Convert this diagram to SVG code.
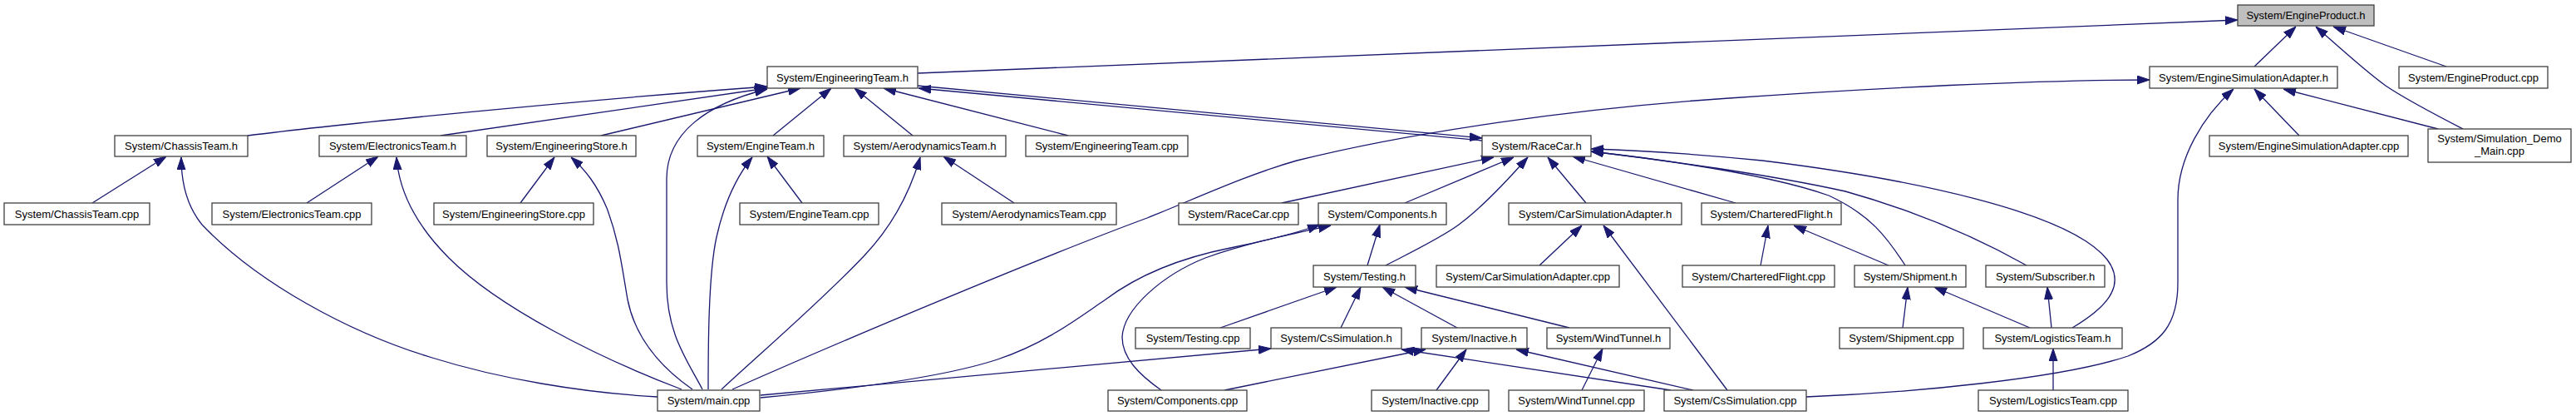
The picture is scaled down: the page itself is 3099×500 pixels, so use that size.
<svg xmlns="http://www.w3.org/2000/svg" width="3099" height="500" viewBox="0 0 3099 500">
<style>
.node rect{fill:#ffffff;stroke:#404040;stroke-width:1.3}
.node.root rect{fill:#bfbfbf}
.node text{font-family:"Liberation Sans",Arial,sans-serif;font-size:13px;fill:#000000;text-anchor:middle}
.edges path{fill:none;stroke:#191970;stroke-width:1.3;marker-end:url(#arr)}
</style>
<defs>
<marker id="arr" markerUnits="userSpaceOnUse" viewBox="0 0 15 11" markerWidth="15" markerHeight="11" refX="15" refY="5.5" orient="auto">
<path d="M0,0.5 L15,5.5 L0,10.5 z" fill="#191970" stroke="#191970" stroke-width="1"/>
</marker>
</defs>
<rect width="3099" height="500" fill="#ffffff"/>
<g class="edges" id="connectors">
<path d="M1104,88 L2692,24"/>
<path d="M2712,80 L2762,32"/>
<path d="M2963,155 C2930,138 2895,120 2870,103 C2845,85 2810,53 2786,32"/>
<path d="M2943,80 L2807,32"/>
<path d="M881,468 C1000,415 1250,310 1380,262 C1440,238 1500,210 1560,193 C1700,158 1900,130 2080,118 C2250,106 2450,96 2586,96"/>
<path d="M2766,163 L2712,107"/>
<path d="M2933,155 L2747,107"/>
<path d="M2173,477 C2300,472 2480,455 2560,428 C2600,412 2620,390 2620,340 L2620,240 C2620,190 2650,140 2687,107"/>
<path d="M298,163 C400,150 700,120 923,104"/>
<path d="M530,163 L923,106"/>
<path d="M845,468 C825,430 802,400 802,340 L802,215 C802,160 850,125 923,107"/>
<path d="M723,163 L963,106"/>
<path d="M930,163 L1000,106"/>
<path d="M1098,163 L1028,106"/>
<path d="M1285,163 L1063,106"/>
<path d="M1104,103 L1783,166"/>
<path d="M1783,169 L1105,106"/>
<path d="M111,244 L200,188"/>
<path d="M791,477 C700,472 600,455 520,430 C420,400 310,340 243,270 C225,248 218,220 218,189"/>
<path d="M369,244 L455,188"/>
<path d="M820,468 C720,430 600,370 540,310 C500,270 480,230 477,189"/>
<path d="M626,244 L667,189"/>
<path d="M833,468 C800,445 765,410 755,360 C748,320 745,290 730,250 C718,222 705,205 687,189"/>
<path d="M965,244 L923,188"/>
<path d="M852,468 C852,420 852,330 862,285 C872,240 888,210 905,189"/>
<path d="M1220,244 L1135,188"/>
<path d="M868,468 C920,420 990,360 1040,307 C1075,270 1095,230 1107,189"/>
<path d="M1542,244 L1797,189"/>
<path d="M1690,244 L1821,189"/>
<path d="M1667,319 C1700,302 1735,285 1755,270 C1785,248 1815,215 1838,189"/>
<path d="M1908,244 L1862,189"/>
<path d="M2088,244 L1892,188"/>
<path d="M2493,394 C2530,372 2560,345 2535,312 C2490,255 2300,215 2120,193 C2050,186 1980,181 1914,179"/>
<path d="M2292,319 C2270,285 2250,258 2200,235 C2130,210 2000,192 1914,182"/>
<path d="M2438,319 C2390,292 2320,258 2220,230 C2130,210 2000,192 1914,182"/>
<path d="M1852,319 L1903,271"/>
<path d="M2078,469 L1929,271"/>
<path d="M2118,319 L2127,271"/>
<path d="M2272,319 L2158,271"/>
<path d="M2289,394 L2295,345"/>
<path d="M2442,394 L2327,345"/>
<path d="M2468,394 L2463,345"/>
<path d="M2470,469 L2470,419"/>
<path d="M1468,394 L1608,345"/>
<path d="M1613,394 L1637,345"/>
<path d="M1753,394 L1663,345"/>
<path d="M1888,394 L1690,345"/>
<path d="M1645,319 L1660,270"/>
<path d="M915,478 C1000,470 1130,455 1200,432 C1260,412 1300,380 1330,360 C1370,330 1420,310 1480,298 C1520,290 1560,280 1588,270"/>
<path d="M1397,469 C1370,450 1350,430 1350,405 C1352,370 1400,330 1450,310 C1500,292 1560,280 1601,271"/>
<path d="M915,475 L1529,419"/>
<path d="M2010,469 L1686,420"/>
<path d="M1728,469 L1764,420"/>
<path d="M1473,469 L1715,420"/>
<path d="M2037,469 L1824,420"/>
<path d="M1903,469 L1928,419"/>
</g>
<g class="node root" id="EngineProduct_h"><rect x="2692" y="6" width="164" height="25"/><text x="2774" y="23">System/EngineProduct.h</text></g>
<g class="node" id="EngineeringTeam_h"><rect x="923" y="80" width="181" height="26"/><text x="1013.5" y="97.5">System/EngineeringTeam.h</text></g>
<g class="node" id="EngineSimulationAdapter_h"><rect x="2586" y="80" width="226" height="26"/><text x="2699" y="97.5">System/EngineSimulationAdapter.h</text></g>
<g class="node" id="EngineProduct_cpp"><rect x="2886" y="80" width="179" height="26"/><text x="2975.5" y="97.5">System/EngineProduct.cpp</text></g>
<g class="node" id="ChassisTeam_h"><rect x="138" y="163" width="160" height="25"/><text x="218" y="180">System/ChassisTeam.h</text></g>
<g class="node" id="ElectronicsTeam_h"><rect x="384" y="163" width="177" height="25"/><text x="472.5" y="180">System/ElectronicsTeam.h</text></g>
<g class="node" id="EngineeringStore_h"><rect x="586" y="163" width="179" height="25"/><text x="675.5" y="180">System/EngineeringStore.h</text></g>
<g class="node" id="EngineTeam_h"><rect x="839" y="163" width="152" height="25"/><text x="915" y="180">System/EngineTeam.h</text></g>
<g class="node" id="AerodynamicsTeam_h"><rect x="1015" y="163" width="195" height="25"/><text x="1112.5" y="180">System/AerodynamicsTeam.h</text></g>
<g class="node" id="EngineeringTeam_cpp"><rect x="1234" y="163" width="195" height="25"/><text x="1331.5" y="180">System/EngineeringTeam.cpp</text></g>
<g class="node" id="RaceCar_h"><rect x="1783" y="163" width="131" height="25"/><text x="1848.5" y="180">System/RaceCar.h</text></g>
<g class="node" id="EngineSimulationAdapter_cpp"><rect x="2658" y="163" width="239" height="25"/><text x="2777.5" y="180">System/EngineSimulationAdapter.cpp</text></g>
<g class="node" id="Simulation_Demo_Main_cpp"><rect x="2921" y="155" width="172" height="40"/><text x="3007" y="171">System/Simulation_Demo</text><text x="3007" y="186">_Main.cpp</text></g>
<g class="node" id="ChassisTeam_cpp"><rect x="5" y="244" width="175" height="26"/><text x="92.5" y="261.5">System/ChassisTeam.cpp</text></g>
<g class="node" id="ElectronicsTeam_cpp"><rect x="255" y="244" width="192" height="26"/><text x="351" y="261.5">System/ElectronicsTeam.cpp</text></g>
<g class="node" id="EngineeringStore_cpp"><rect x="522" y="244" width="192" height="26"/><text x="618" y="261.5">System/EngineeringStore.cpp</text></g>
<g class="node" id="EngineTeam_cpp"><rect x="890" y="244" width="167" height="26"/><text x="973.5" y="261.5">System/EngineTeam.cpp</text></g>
<g class="node" id="AerodynamicsTeam_cpp"><rect x="1133" y="244" width="210" height="26"/><text x="1238" y="261.5">System/AerodynamicsTeam.cpp</text></g>
<g class="node" id="RaceCar_cpp"><rect x="1418" y="244" width="144" height="26"/><text x="1490" y="261.5">System/RaceCar.cpp</text></g>
<g class="node" id="Components_h"><rect x="1586" y="244" width="154" height="26"/><text x="1663" y="261.5">System/Components.h</text></g>
<g class="node" id="CarSimulationAdapter_h"><rect x="1815" y="244" width="208" height="26"/><text x="1919" y="261.5">System/CarSimulationAdapter.h</text></g>
<g class="node" id="CharteredFlight_h"><rect x="2047" y="244" width="168" height="26"/><text x="2131" y="261.5">System/CharteredFlight.h</text></g>
<g class="node" id="Testing_h"><rect x="1580" y="319" width="123" height="26"/><text x="1641.5" y="336.5">System/Testing.h</text></g>
<g class="node" id="CarSimulationAdapter_cpp"><rect x="1728" y="319" width="220" height="26"/><text x="1838" y="336.5">System/CarSimulationAdapter.cpp</text></g>
<g class="node" id="CharteredFlight_cpp"><rect x="2024" y="319" width="183" height="26"/><text x="2115.5" y="336.5">System/CharteredFlight.cpp</text></g>
<g class="node" id="Shipment_h"><rect x="2231" y="319" width="134" height="26"/><text x="2298" y="336.5">System/Shipment.h</text></g>
<g class="node" id="Subscriber_h"><rect x="2389" y="319" width="143" height="26"/><text x="2460.5" y="336.5">System/Subscriber.h</text></g>
<g class="node" id="Testing_cpp"><rect x="1366" y="394" width="138" height="25"/><text x="1435" y="411">System/Testing.cpp</text></g>
<g class="node" id="CsSimulation_h"><rect x="1529" y="394" width="157" height="25"/><text x="1607.5" y="411">System/CsSimulation.h</text></g>
<g class="node" id="Inactive_h"><rect x="1710" y="394" width="127" height="25"/><text x="1773.5" y="411">System/Inactive.h</text></g>
<g class="node" id="WindTunnel_h"><rect x="1861" y="394" width="148" height="25"/><text x="1935" y="411">System/WindTunnel.h</text></g>
<g class="node" id="Shipment_cpp"><rect x="2213" y="394" width="149" height="25"/><text x="2287.5" y="411">System/Shipment.cpp</text></g>
<g class="node" id="LogisticsTeam_h"><rect x="2386" y="394" width="167" height="25"/><text x="2469.5" y="411">System/LogisticsTeam.h</text></g>
<g class="node" id="main_cpp"><rect x="791" y="469" width="123" height="25"/><text x="852.5" y="486">System/main.cpp</text></g>
<g class="node" id="Components_cpp"><rect x="1333" y="469" width="167" height="25"/><text x="1416.5" y="486">System/Components.cpp</text></g>
<g class="node" id="Inactive_cpp"><rect x="1650" y="469" width="141" height="25"/><text x="1720.5" y="486">System/Inactive.cpp</text></g>
<g class="node" id="WindTunnel_cpp"><rect x="1815" y="469" width="163" height="25"/><text x="1896.5" y="486">System/WindTunnel.cpp</text></g>
<g class="node" id="CsSimulation_cpp"><rect x="2002" y="469" width="171" height="25"/><text x="2087.5" y="486">System/CsSimulation.cpp</text></g>
<g class="node" id="LogisticsTeam_cpp"><rect x="2380" y="469" width="180" height="25"/><text x="2470" y="486">System/LogisticsTeam.cpp</text></g>
</svg>
